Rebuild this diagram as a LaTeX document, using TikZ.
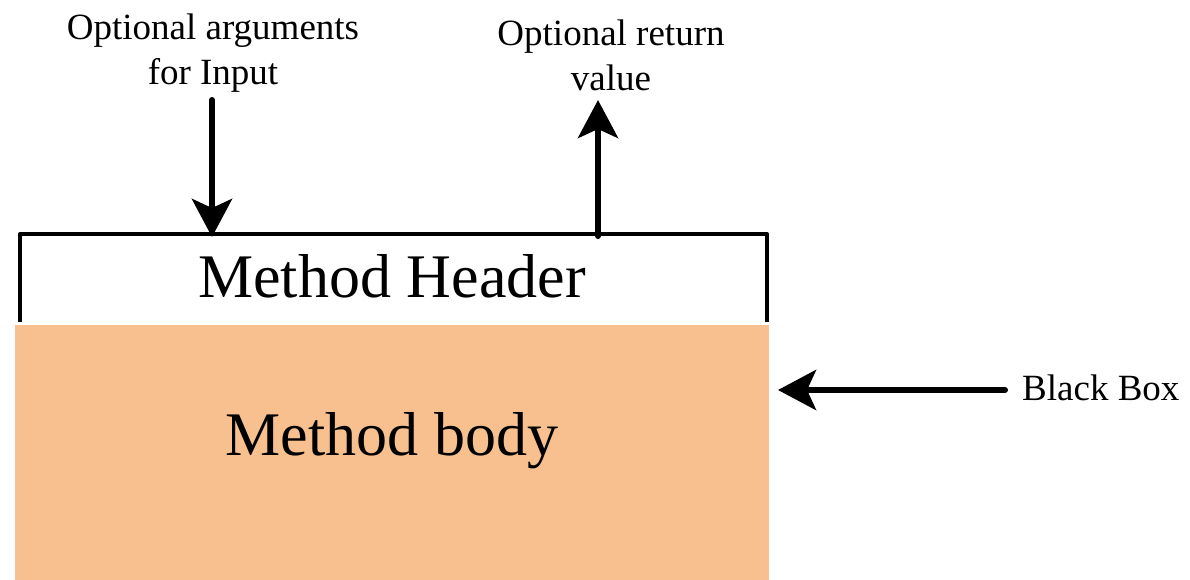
\documentclass[tikz,border=0pt]{standalone}
\usepackage{fontspec}
\setmainfont{Liberation Serif}
\usetikzlibrary{arrows.meta}
\definecolor{bodyfill}{RGB}{248,191,143}
\begin{document}
\begin{tikzpicture}[x=1pt,y=-1pt,
  boxline/.style={line width=4pt},
  bigarrow/.style={line width=6pt,line cap=round,-{Stealth[length=38pt,width=40pt,inset=9pt]}},
  lbl/.style={font=\fontsize{37}{45}\selectfont,align=center,inner sep=0pt},
  big/.style={font=\fontsize{62}{70}\selectfont,inner sep=0pt}]
\useasboundingbox (0,0) rectangle (1190,580);
% body
\fill[bodyfill] (15,325) rectangle (769,580);
\node[big] (body) at (392,441) {Method body};
% header
\coordinate (hbl) at (20,322);
\coordinate (htl) at (20,234);
\coordinate (htr) at (767,234);
\coordinate (hbr) at (767,322);
\draw[boxline,line join=round] (hbl) -- (htl) -- (htr) -- (hbr);
\node[big] (header) at (392,276) {Method Header};
% labels
\node[lbl] (inlbl) at (213,53) {Optional arguments\\for Input};
\node[lbl] (retlbl) at (611,55) {Optional return\\value};
\node[lbl,anchor=west] (bb) at (1022,388) {Black Box};
% arrows
\coordinate (inend) at (212,237);
\coordinate (instart) at (212,100);
\draw[bigarrow] (instart) -- (inend);
\coordinate (retstart) at (598,236);
\coordinate (retend) at (598,100);
\draw[bigarrow] (retstart) -- (retend);
\coordinate (bbstart) at (1005,390);
\coordinate (bbend) at (778,390);
\draw[bigarrow] (bbstart) -- (bbend);
\end{tikzpicture}
\end{document}
